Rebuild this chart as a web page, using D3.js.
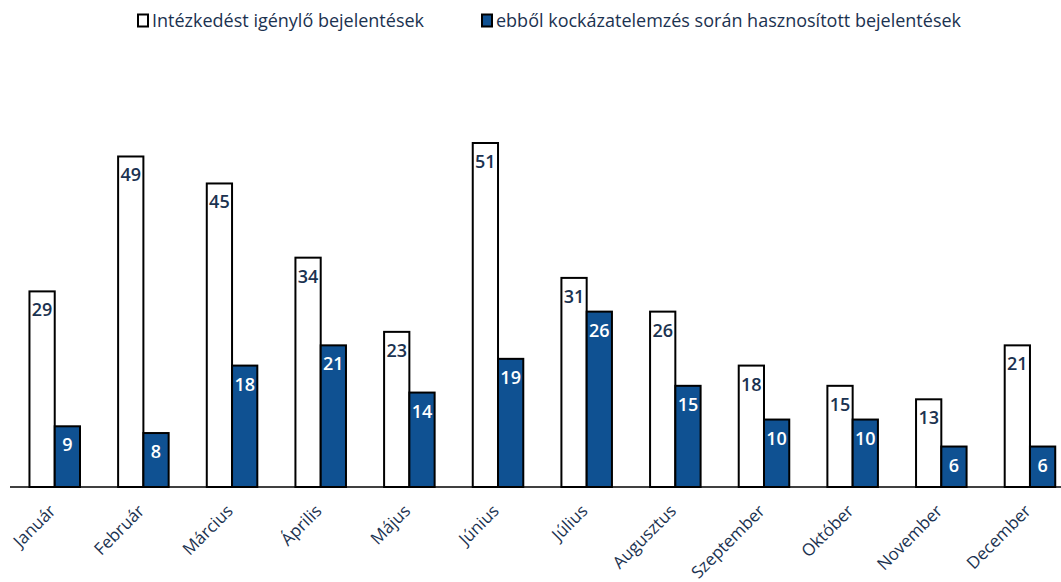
<!DOCTYPE html>
<html><head><meta charset="utf-8">
<script src="https://cdn.jsdelivr.net/npm/d3@7"></script>
<style>body{margin:0;background:#fff;font-family:"Open Sans",sans-serif;}</style>
</head><body><svg id="c" width="1061" height="582"></svg>
<script>
const months = ["Január","Február","Március","Április","Május","Június","Július","Augusztus","Szeptember","Október","November","December"];
const seriesNames = ["Intézkedést igénylő bejelentések","ebből kockázatelemzés során hasznosított bejelentések"];
const total = [29,49,45,34,23,51,31,26,18,15,13,21];
const used = [9,8,18,21,14,19,26,15,10,10,6,6];

const navy = "#1b3250", blue = "#0f5192";
const svg = d3.select("#c");
const baseY = 487;
const x = d3.scaleBand().domain(months).range([10.4, 1074.3]).paddingInner(0.43).paddingOuter(0.215);
const x1 = d3.scaleBand().domain([0,1]).range([0, x.bandwidth()]);
const y = d3.scaleLinear().domain([0, 51]).range([baseY, 143]);

const data = months.map((m,i)=>({m, v:[total[i], used[i]]}));
const g = svg.append("g");
data.forEach(d=>{
  [0,1].forEach(k=>{
    const bx = x(d.m)+x1(k), bw = x1.bandwidth(), by = y(d.v[k]);
    g.append("rect").attr("x",bx).attr("y",by).attr("width",bw).attr("height",baseY-by)
      .attr("fill", k===0?"#fff":blue).attr("stroke","#000").attr("stroke-width",2);
    g.append("text").attr("x",bx+bw/2).attr("y",by+25).attr("text-anchor","middle")
      .attr("font-size",18).attr("font-weight",600).attr("fill",k===0?navy:"#fff").text(d.v[k]);
  });
});

const axis = d3.axisBottom(x).tickSize(0).tickPadding(0);
const ax = svg.append("g").attr("transform",`translate(0,${baseY})`).call(axis);
ax.select(".domain").attr("d","M10,0H1061").attr("stroke","#000").attr("stroke-width",1.5);
ax.selectAll(".tick text").attr("font-family","Open Sans").attr("font-size",17).attr("fill",navy)
  .attr("text-anchor","end").attr("dy",0).attr("transform","translate(2,25) rotate(-45)");

const leg = [{x:137,name:seriesNames[0],fill:"#fff"},{x:481,name:seriesNames[1],fill:blue}];
leg.forEach(l=>{
  svg.append("rect").attr("x",l.x+1).attr("y",14.5).attr("width",10).attr("height",12).attr("fill",l.fill).attr("stroke","#000").attr("stroke-width",2);
  svg.append("text").attr("x",l.x+15).attr("y",27).attr("font-size",18).attr("fill",navy).text(l.name);
});
</script></body></html>
